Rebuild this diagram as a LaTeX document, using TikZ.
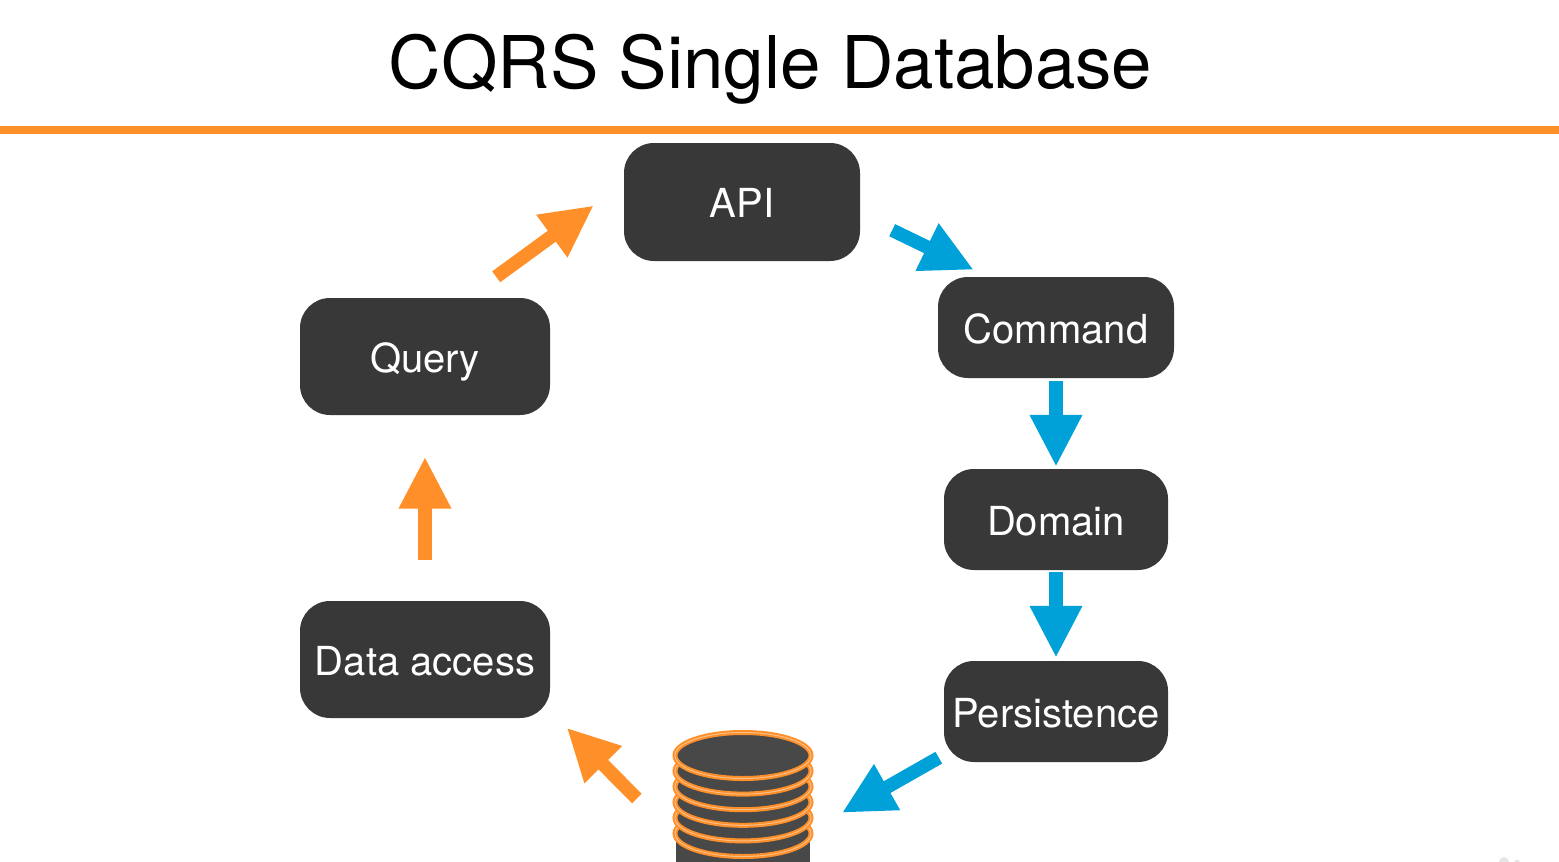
\documentclass[tikz,border=0pt]{standalone}
\usepackage{fontspec}
\setmainfont{TeX Gyre Heros}
\usetikzlibrary{arrows.meta}
\definecolor{boxdark}{HTML}{383838}
\definecolor{dbdark}{HTML}{484848}
\definecolor{flowblue}{HTML}{00A0D8}
\definecolor{floworange}{HTML}{FF9029}
\definecolor{ringlight}{HTML}{F8BE8A}
\definecolor{markgrey}{HTML}{E6E6E6}
\tikzset{
  stage/.style={fill=boxdark,text=white,rounded corners=30pt,inner sep=0pt,
    text height=31.4pt,text depth=0pt,
    font=\fontsize{40}{46}\selectfont},
  flowarrow/.style={line width=13.5pt,-{Triangle[length=52pt,width=49pt]}},
  writeflow/.style={flowarrow,draw=flowblue,color=flowblue},
  readflow/.style={flowarrow,draw=floworange,color=floworange},
  dbring/.style={fill=dbdark,draw=floworange,line width=2pt,double=ringlight,double distance=1pt},
}
\begin{document}
\begin{tikzpicture}[x=1pt,y=-1pt]
\useasboundingbox (0,0) rectangle (1559,862);
\fill[white] (0,0) rectangle (1559,862);
\node[font=\fontsize{72.7}{84}\selectfont,inner sep=0pt,text height=52pt,text depth=0pt] (title) at (770.5,62) {CQRS Single Database};
\fill[floworange] (0,126) rectangle (1559,134);

\node[stage,minimum width=236pt,minimum height=118pt] (api) at (742,202) {API};
\node[stage,minimum width=236pt,minimum height=101pt] (command) at (1056,327.5) {Command};
\node[stage,minimum width=224pt,minimum height=101pt] (domain) at (1056,519.5) {Domain};
\node[stage,minimum width=224pt,minimum height=101pt] (persistence) at (1056,711.5) {Persistence};
\node[stage,minimum width=250pt,minimum height=117pt] (query) at (425,356.5) {Query};
\node[stage,minimum width=250pt,minimum height=117pt] (dataaccess) at (425,659.5) {Data access};

% database
\fill[dbdark] (676,755) rectangle (810,862);
\foreach \i in {5,4,3,2,1,0}
  \draw[dbring] (743,755.5+15.6*\i) ellipse [x radius=68,y radius=23];
\node[inner sep=0pt,minimum width=138pt,minimum height=130pt] (db) at (743,797) {};

% faint corner mark
\fill[markgrey] (1504,862) circle [radius=5];
\fill[markgrey] (1517,862) circle [radius=2.5];

% connectors
\draw[writeflow] ([shift={(32,-31)}]api.south east) -- ([shift={(36,-7)}]command.north west);
\draw[writeflow] ([shift={(0,3)}]command.south) -- ([shift={(0,-2)}]domain.north);
\draw[writeflow] ([shift={(0,2)}]domain.south) -- ([shift={(0,-3)}]persistence.north);
\draw[writeflow] ([shift={(-5,-4.5)}]persistence.south west) -- ([shift={(29.7,15.8)}]db.east);
\draw[readflow] ([shift={(-37,1.5)}]db.west) -- ([shift={(16.5,9.5)}]dataaccess.south east);
\draw[readflow] ([shift={(0,-41)}]dataaccess.north) -- ([shift={(0,41.5)}]query.south);
\draw[readflow] ([shift={(-54,-21)}]query.north east) -- ([shift={(-30,3.5)}]api.west);
\end{tikzpicture}
\end{document}
